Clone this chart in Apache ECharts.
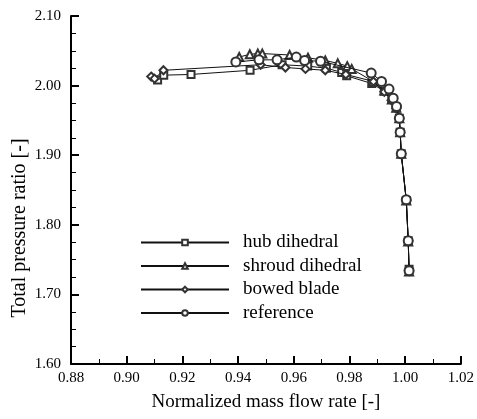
<!DOCTYPE html>
<html>
<head>
<meta charset="utf-8">
<script src="https://cdn.jsdelivr.net/npm/echarts@6/dist/echarts.min.js"></script>
<style>
html,body{margin:0;padding:0;background:#fff;}
#c{width:477px;height:419px;}
</style>
</head>
<body>
<div id="c"></div>
<script>
const seriesNames = ['hub dihedral', 'shroud dihedral', 'bowed blade', 'reference'];

const hubX = [0.9111, 0.9133, 0.9231, 0.9443, 0.9558, 0.9650, 0.9717, 0.9772, 0.9790, 0.9880, 0.9925, 0.9952, 0.9968, 0.9979, 0.9982, 0.9986, 1.0004, 1.0011, 1.0014];
const hubY = [2.008, 2.015, 2.016, 2.022, 2.030, 2.028, 2.025, 2.019, 2.014, 2.003, 1.992, 1.980, 1.968, 1.953, 1.933, 1.902, 1.835, 1.777, 1.736];

const shroudX = [0.9404, 0.9442, 0.9471, 0.9487, 0.9585, 0.9651, 0.9713, 0.9758, 0.9792, 0.9808, 0.9885, 0.9925, 0.9952, 0.9968, 0.9979, 0.9982, 0.9986, 1.0004, 1.0011, 1.0014];
const shroudY = [2.041, 2.045, 2.046, 2.046, 2.044, 2.040, 2.036, 2.032, 2.028, 2.024, 2.006, 1.993, 1.980, 1.968, 1.953, 1.933, 1.902, 1.835, 1.776, 1.733];

const bowedX = [0.9088, 0.9100, 0.9132, 0.9481, 0.9570, 0.9642, 0.9713, 0.9787, 0.9886, 0.9925, 0.9951, 0.9968, 0.9979, 0.9982, 0.9986, 1.0004, 1.0011, 1.0014];
const bowedY = [2.013, 2.010, 2.022, 2.030, 2.026, 2.024, 2.022, 2.016, 2.006, 1.991, 1.979, 1.967, 1.953, 1.933, 1.902, 1.835, 1.777, 1.734];

const refX = [0.9392, 0.9475, 0.9540, 0.9609, 0.9639, 0.9696, 0.9878, 0.9915, 0.9942, 0.9957, 0.9969, 0.9979, 0.9982, 0.9986, 1.0004, 1.0011, 1.0014];
const refY = [2.034, 2.037, 2.037, 2.041, 2.036, 2.035, 2.018, 2.006, 1.995, 1.982, 1.970, 1.953, 1.933, 1.902, 1.836, 1.777, 1.734];

const xMin = 0.88, xMax = 1.02, xStep = 0.02;
const yMin = 1.6, yMax = 2.1, yStep = 0.1;

function pairs(xs, ys) { return xs.map((x, i) => [x, ys[i]]); }

const FONT = '"Liberation Serif", "DejaVu Serif", serif';
const chart = echarts.init(document.getElementById('c'));

const symbols = ['emptyRect', 'emptyTriangle', 'emptyDiamond', 'emptyCircle'];
const sizes = [7, 8, 8, 9];
const datas = [pairs(hubX, hubY), pairs(shroudX, shroudY), pairs(bowedX, bowedY), pairs(refX, refY)];

chart.setOption({
  backgroundColor: '#fff',
  animation: false,
  grid: { left: 71, right: 14, top: 16, bottom: 55 },
  legend: {
    orient: 'vertical',
    left: 140, top: 233, padding: 0,
    itemWidth: 88, itemHeight: 7, itemGap: 4.5,
    data: seriesNames,
    textStyle: { fontFamily: FONT, fontSize: 19, color: '#000', padding: [0, 0, 0, 9] }
  },
  xAxis: {
    type: 'value', min: xMin, max: xMax, interval: xStep,
    name: 'Normalized mass flow rate [-]', nameLocation: 'middle', nameGap: 29,
    nameTextStyle: { fontFamily: FONT, fontSize: 19, color: '#000' },
    axisLine: { show: true, onZero: false, lineStyle: { color: '#000', width: 2 } },
    axisTick: { show: true, inside: true, length: 8, lineStyle: { color: '#000', width: 2 } },
    minorTick: { show: true, splitNumber: 2, length: 5, lineStyle: { color: '#000', width: 1 } },
    axisLabel: { fontFamily: FONT, fontSize: 15, color: '#000', margin: 7, formatter: v => v.toFixed(2) },
    splitLine: { show: false }
  },
  yAxis: {
    type: 'value', min: yMin, max: yMax, interval: yStep,
    axisLine: { show: true, onZero: false, lineStyle: { color: '#000', width: 2 } },
    axisTick: { show: true, inside: true, length: 8, lineStyle: { color: '#000', width: 2 } },
    minorTick: { show: true, splitNumber: 4, length: 5, lineStyle: { color: '#000', width: 1 } },
    axisLabel: { fontFamily: FONT, fontSize: 15, color: '#000', margin: 10, formatter: v => v.toFixed(2) },
    splitLine: { show: false }
  },
  graphic: [{
    type: 'text', x: 20, y: 228, rotation: Math.PI / 2,
    style: { text: 'Total pressure ratio [-]', fontFamily: FONT, fontSize: 20, fill: '#000', align: 'center', verticalAlign: 'middle' }
  }],
  series: seriesNames.map((n, i) => ({
    name: n, type: 'line', data: datas[i],
    symbol: symbols[i], symbolSize: sizes[i],
    lineStyle: { color: '#111', width: 1 },
    itemStyle: { color: '#333', borderColor: '#333', borderWidth: 1 },
    z: 2 + i
  }))
});
</script>
</body>
</html>
